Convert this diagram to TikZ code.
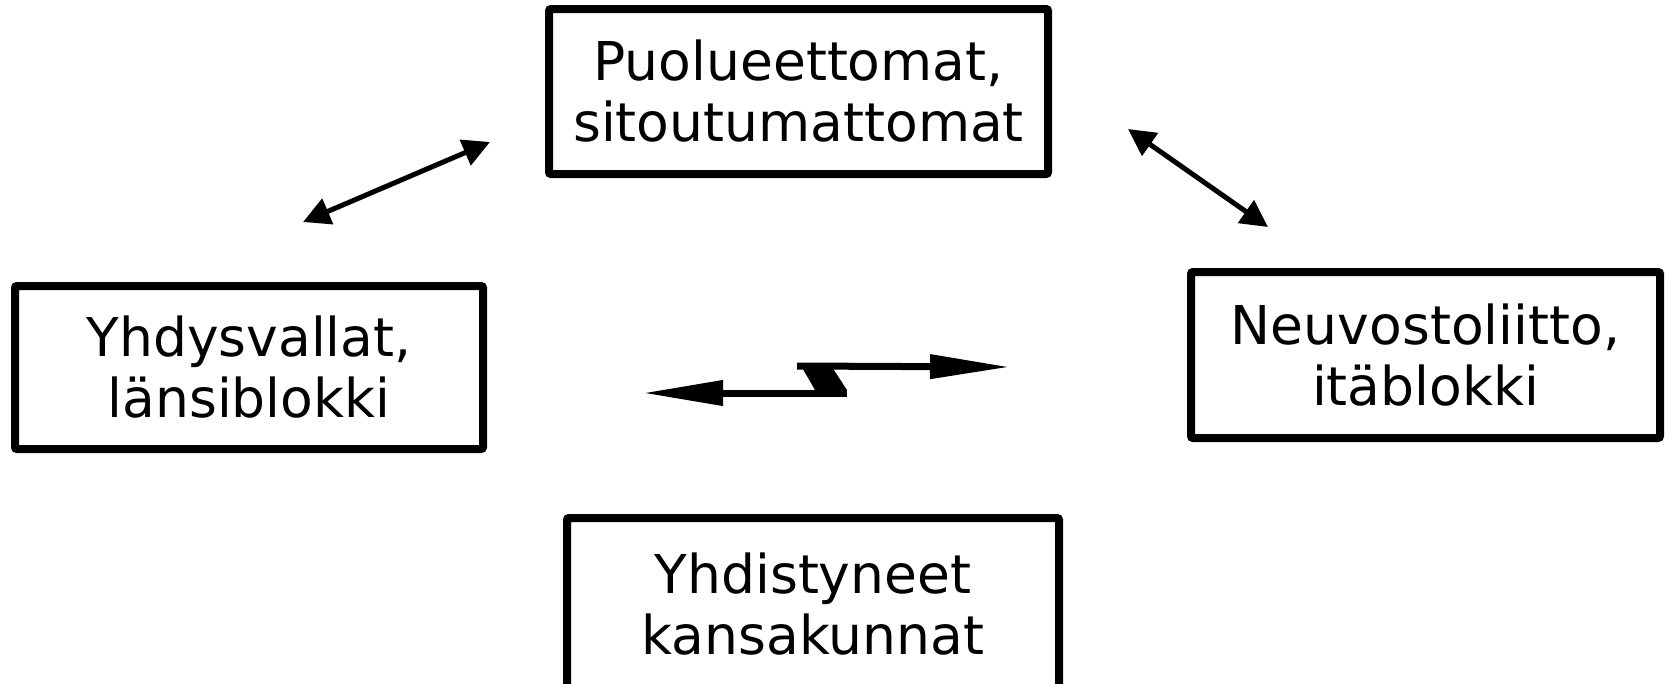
\documentclass[tikz,border=0pt]{standalone}
\usepackage{fontspec}
\setmainfont{DejaVu Sans}
\usetikzlibrary{arrows.meta}

\begin{document}
\begin{tikzpicture}[x=1pt, y=-1pt,
    blokki/.style={draw, line width=8pt, rounded corners=2pt, inner sep=0pt, align=center, font=\fontsize{53.5}{61}\selectfont},
    nuoli/.style={line width=5pt, {Triangle[length=27pt,width=27pt]}-{Triangle[length=27pt,width=27pt]}},
    salama/.style={line width=7pt}]
            \useasboundingbox (0,0) rectangle (1667,683);
            % top: non-aligned countries
            \node[blokki, minimum width=499pt, minimum height=165pt] (puolueettomat) at (798.5,91.5) {Puolueettomat,\\sitoutumattomat};
            % western and eastern blocs
            \node[blokki, minimum width=468pt, minimum height=163pt] (lansi) at (249,367.5) {Yhdysvallat,\\länsiblokki};
            \node[blokki, minimum width=469pt, minimum height=166pt] (ita) at (1425.5,355) {Neuvostoliitto,\\itäblokki};
            % united nations, cut off at the bottom
            \node[blokki, minimum width=492pt, minimum height=172pt] (yk) at (813,604) {Yhdistyneet\\kansakunnat};
            % diagonal arrows
            \coordinate (lansi_a) at (303,222);
            \coordinate (lansi_b) at (490,142);
            \draw[nuoli] (lansi_a) -- (lansi_b);
            \coordinate (ita_a) at (1128,129);
            \coordinate (ita_b) at (1268,227);
            \draw[nuoli] (ita_a) -- (ita_b);
            % zigzag arrow between the blocs
            \coordinate (z_vasen) at (643,393);
            \coordinate (z_ala) at (847,393);
            \coordinate (z_yla) at (797,366);
            \coordinate (z_oikea) at (1010,367);
            \draw[salama, {Triangle[length=80pt,width=24pt]}-] (z_vasen) -- (z_ala);
            \draw[salama, -{Triangle[length=80pt,width=23pt]}] (z_yla) -- (z_oikea);
            \fill (800,364) -- (830,364) -- (847,390) -- (815,390) -- cycle;
        \end{tikzpicture}
\end{document}
